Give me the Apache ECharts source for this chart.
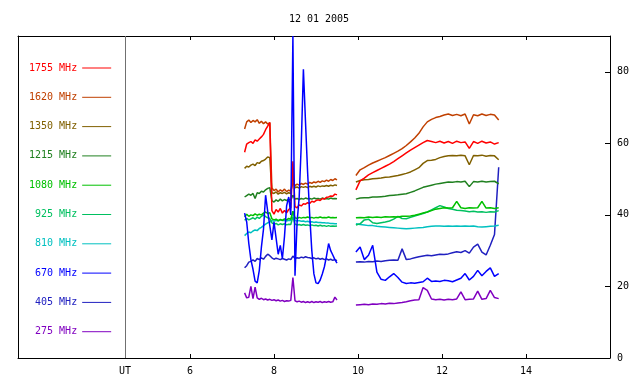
<!DOCTYPE html>
<html>
<head>
<meta charset="utf-8">
<script src="https://cdn.jsdelivr.net/npm/echarts@6/dist/echarts.min.js"></script>
<style>
  html, body { margin: 0; padding: 0; background: #fff; }
  #chart { width: 640px; height: 384px; }
</style>
</head>
<body>
<div id="chart"></div>
<script>
// ---------- data ----------
const titleText = '12 01 2005';
const xTicks = [6, 8, 10, 12, 14];
const yTicks = [0, 20, 40, 60, 80];
const utTime = 4.45;
const gapTime = 9.7;

const times1 = [7.30,7.35,7.40,7.45,7.50,7.55,7.60,7.65,7.70,7.75,7.80,7.85,7.90,7.95,8.00,
  8.05,8.10,8.15,8.20,8.25,8.30,8.35,8.40,8.45,8.50,8.55,8.60,8.65,8.70,8.75,
  8.80,8.85,8.90,8.95,9.00,9.05,9.10,9.15,9.20,9.25,9.30,9.35,9.40,9.45,9.50];
const times2 = [9.95,10.05,10.15,10.25,10.35,10.45,10.55,10.65,10.75,10.85,10.95,11.05,
  11.15,11.25,11.35,11.45,11.55,11.65,11.75,11.85,11.95,12.05,12.15,12.25,12.35,
  12.45,12.55,12.65,12.75,12.85,12.95,13.05,13.15,13.25,13.35];

const seriesNames = ['1755 MHz','1620 MHz','1350 MHz','1215 MHz','1080 MHz','925 MHz','810 MHz','670 MHz','405 MHz','275 MHz'];

const f1755a = [57.5,59.8,60.2,60.5,60.0, 61.0,60.6,61.2,61.8,62.5, 63.8,64.8,65.8,41.2,40.2,
  41.5,40.8,41.8,40.5,41.2, 40.6,41.5,42.0,55.0,42.3, 42.0,42.8,42.5,43.1,43.0,
  43.4,43.2,43.8,43.6,44.0, 44.2,44.0,44.6,44.4,44.9, 45.0,45.3,45.2,45.8,45.6];
const f1755b = [47.0,49.5,50.3,51.2,51.8, 52.4,53.0,53.6,54.2,54.9, 55.7,56.5,57.3,58.1,58.8,
  59.5,60.2,60.8,60.5,60.2, 60.6,60.1,60.5,60.0,60.6, 60.2,60.4,58.6,60.5,60.0,
  60.6,60.1,60.4,59.8,60.2];

const f1620a = [64.0,66.0,66.5,65.8,66.4, 66.0,66.6,65.6,66.2,65.5, 66.0,65.4,65.8,47.5,46.8,
  47.2,46.4,47.0,46.6,47.2, 46.5,46.9,46.6,49.0,48.2, 48.6,48.3,48.8,48.5,48.9,
  48.6,49.1,48.8,49.2,49.0, 49.4,49.1,49.5,49.3,49.7, 49.4,49.9,49.6,50.1,49.8];
const f1620b = [51.0,52.6,53.2,53.9,54.5, 55.0,55.5,56.0,56.6,57.2, 57.8,58.5,59.4,60.4,61.5,
  62.8,64.6,66.0,66.7,67.2, 67.5,67.9,68.2,67.8,68.1, 67.7,68.2,65.4,68.0,67.7,
  68.2,67.8,68.1,67.9,66.5];

const f1350a = [53.0,53.6,53.4,53.9,54.2, 53.8,54.6,54.4,55.0,55.2, 55.6,56.2,56.0,46.2,46.0,
  46.4,45.8,46.2,46.0,46.3, 45.9,46.2,46.0,51.0,47.6, 47.8,47.5,47.9,47.7,47.9,
  47.6,48.0,47.8,48.0,47.8, 48.1,47.9,48.1,48.0,48.2, 48.0,48.3,48.1,48.4,48.2];
const f1350b = [49.2,49.6,49.8,49.9,50.1, 50.2,50.3,50.5,50.6,50.8, 51.0,51.3,51.6,52.0,52.6,
  53.2,54.4,55.2,55.3,55.5, 56.0,56.3,56.5,56.6,56.5, 56.7,56.5,54.0,56.6,56.5,
  56.7,56.4,56.6,56.5,55.4];

const f1215a = [45.0,45.4,45.8,45.5,46.0, 44.6,46.2,46.0,46.6,46.4, 47.0,47.4,47.6,44.0,43.6,
  44.2,43.8,44.4,43.9,44.3, 44.0,44.4,44.1,45.5,44.4, 44.6,44.3,44.6,44.4,44.7,
  44.5,44.6,44.4,44.7,44.5, 44.6,44.4,44.7,44.5,44.6, 44.4,44.7,44.5,44.6,44.5];
const f1215b = [44.4,44.7,44.8,44.8,45.0, 45.0,45.1,45.2,45.4,45.5, 45.6,45.8,45.9,46.3,46.7,
  47.2,47.7,48.0,48.3,48.6, 48.8,49.0,49.2,49.1,49.3, 49.2,49.4,47.9,49.3,49.2,
  49.4,49.2,49.3,49.4,48.7];

const f1080a = [39.5,40.2,39.6,40.0,39.8, 40.3,39.9,40.2,40.0,40.5, 40.8,40.4,40.6,38.9,38.6,
  38.8,38.4,38.7,38.5,38.9, 38.6,39.0,38.8,41.0,39.2, 39.0,39.3,39.1,39.3,39.2,
  39.4,39.2,39.3,39.1,39.3, 39.2,39.4,39.2,39.3,39.2, 39.4,39.2,39.3,39.2,39.3];
const f1080b = [39.2,39.3,39.2,39.4,39.3, 39.4,39.3,39.5,39.4,39.5, 39.4,39.6,39.6,39.7,39.9,
  40.2,40.5,40.8,41.2,41.6, 41.8,42.0,41.9,42.0,43.8, 42.0,41.8,42.0,41.9,42.0,
  43.8,41.9,42.0,41.8,42.0];

const f925a = [38.5,39.0,38.6,38.9,39.2, 38.8,39.4,39.0,39.6,40.0, 39.5,39.2,39.0,37.8,37.4,
  37.6,37.2,37.5,37.3,37.5, 37.2,37.4,37.3,39.5,37.4, 37.2,37.3,37.1,37.3,37.1,
  37.2,37.0,37.2,37.0,37.1, 36.9,37.1,36.9,37.0,36.8, 37.0,36.8,36.9,36.8,36.9];
const f925b = [37.2,37.5,38.6,38.8,37.8, 37.6,37.8,38.0,38.3,38.8, 39.6,39.0,38.9,39.3,39.7,
  40.0,40.4,40.8,41.4,42.0, 42.6,42.2,41.8,41.6,41.3, 41.2,41.1,40.9,41.0,40.8,
  40.9,40.7,40.9,40.8,41.2];

const f810a = [34.2,34.8,35.2,35.0,35.5, 35.8,35.6,36.2,36.5,37.0, 37.4,37.8,38.0,38.4,38.2,
  38.5,38.3,38.6,38.4,38.5, 38.3,38.5,38.4,41.0,38.4, 38.3,38.4,38.2,38.3,38.1,
  38.2,38.0,38.1,37.9,38.0, 37.9,37.9,37.8,37.8,37.7, 37.7,37.6,37.6,37.5,37.5];
const f810b = [37.5,37.3,37.2,37.0,37.0, 36.8,36.7,36.6,36.5,36.4, 36.3,36.2,36.1,36.2,36.3,
  36.4,36.5,36.7,36.8,36.9, 36.9,36.8,36.9,36.8,36.9, 36.8,36.9,36.8,36.9,36.7,
  36.6,36.7,36.8,36.9,37.1];

const f670a = [40.5,38.0,32.0,27.5,24.8, 21.5,21.0,24.5,31.0,36.0, 45.5,41.0,37.0,33.0,38.0,
  33.5,29.0,31.5,27.8,34.0, 42.5,45.0,40.0,90.0,23.0, 38.0,45.0,60.0,80.7,66.0,
  52.0,40.0,30.0,23.5,21.0, 20.8,21.8,23.5,25.5,28.5, 32.0,30.0,28.8,27.5,26.5];
const f670b = [29.6,31.0,27.5,28.7,31.5, 24.0,22.0,21.7,22.7,23.6, 22.5,21.2,20.8,21.0,20.9,
  21.1,21.3,22.3,21.4,21.5, 21.4,21.7,21.6,21.3,21.8, 22.3,23.6,21.8,22.8,24.5,
  23.0,24.2,25.2,22.8,23.6];

const f405a = [25.2,25.8,26.8,27.0,27.4, 27.0,27.8,27.5,28.0,27.6, 28.4,29.0,28.6,28.0,27.6,
  27.9,27.7,27.5,27.8,27.6, 27.4,27.7,27.5,28.5,27.8, 28.0,27.9,28.2,28.0,28.3,
  28.1,28.0,27.8,28.0,27.7, 27.9,27.6,27.8,27.5,27.7, 27.4,27.6,27.3,27.5,27.2];
const f405b = [26.8,26.9,26.8,27.0,26.9, 27.1,27.0,27.2,27.3,27.4, 27.3,30.5,27.5,27.7,28.0,
  28.3,28.5,28.7,28.6,28.8, 29.0,28.9,29.1,29.4,29.7, 29.5,30.0,29.3,31.0,31.8,
  29.6,28.8,31.5,34.5,53.3];

const f275a = [18.2,16.8,17.0,20.0,16.6, 19.8,16.8,16.4,16.7,16.3, 16.5,16.2,16.4,16.1,16.3,
  16.0,16.2,15.9,16.1,15.8, 16.0,15.9,16.1,22.5,16.0, 15.7,15.9,15.6,15.8,15.5,
  15.7,15.5,15.8,15.5,15.7, 15.6,15.8,15.5,15.7,15.6, 15.8,15.6,15.7,17.0,16.2];
const f275b = [14.8,14.9,15.0,14.9,15.1, 15.0,15.2,15.1,15.3,15.2, 15.4,15.5,15.7,16.0,16.2,
  16.3,19.7,18.9,16.5,16.3, 16.4,16.2,16.4,16.3,16.5, 18.5,16.3,16.4,16.5,18.7,
  16.4,16.6,18.9,16.9,16.6];

// ---------- styling ----------
const MONO = '"DejaVu Sans Mono", "Liberation Mono", monospace';
const colors = {
  '1755 MHz': '#ff0000', '1620 MHz': '#c04000', '1350 MHz': '#806000',
  '1215 MHz': '#208020', '1080 MHz': '#00c000', '925 MHz': '#00c060',
  '810 MHz': '#00c0c0', '670 MHz': '#0000ff', '405 MHz': '#2020c0', '275 MHz': '#8000c0'
};
const seriesValues = {
  '1755 MHz': [f1755a, f1755b], '1620 MHz': [f1620a, f1620b], '1350 MHz': [f1350a, f1350b],
  '1215 MHz': [f1215a, f1215b], '1080 MHz': [f1080a, f1080b], '925 MHz': [f925a, f925b],
  '810 MHz': [f810a, f810b], '670 MHz': [f670a, f670b], '405 MHz': [f405a, f405b],
  '275 MHz': [f275a, f275b]
};
function build(a, b) {
  return times1.map((t, i) => [t, a[i]])
    .concat([[gapTime, null]])
    .concat(times2.map((t, i) => [t, b[i]]));
}

const drawOrder = ['275 MHz','405 MHz','810 MHz','925 MHz','1080 MHz','1215 MHz','1350 MHz','1620 MHz','1755 MHz','670 MHz'];
const series = drawOrder.map(name => ({
  name: name,
  type: 'line',
  xAxisIndex: 0,
  yAxisIndex: 0,
  symbol: 'none',
  showSymbol: false,
  connectNulls: false,
  data: build(seriesValues[name][0], seriesValues[name][1]),
  lineStyle: { color: colors[name], width: 1.5 },
  itemStyle: { color: colors[name] },
  emphasis: { disabled: true }
}));
// UT reference line
series.push({
  name: 'ut', type: 'line', data: [], xAxisIndex: 0, yAxisIndex: 0,
  markLine: {
    silent: true, symbol: ['none', 'none'], label: { show: false },
    lineStyle: { color: '#707070', type: 'solid', width: 1 },
    data: [{ xAxis: utTime }]
  }
});

const xMin = 16 - 592 / 42;
const xMax = 16;

const chart = echarts.init(document.getElementById('chart'), null, { renderer: 'canvas' });
chart.setOption({
  animation: false,
  backgroundColor: '#ffffff',
  title: {
    text: titleText, left: 314, top: 9, textAlign: 'center',
    textStyle: { fontFamily: MONO, fontSize: 10, fontWeight: 'normal', color: '#000' }
  },
  legend: {
    orient: 'vertical', left: 24, top: 58, align: 'right',
    itemWidth: 29, itemHeight: 14, itemGap: 19.3,
    icon: 'path://M0,0H29V1H0Z',
    selectedMode: false,
    textStyle: { fontFamily: MONO, fontSize: 10 },
    data: seriesNames.map(n => ({ name: n, textStyle: { color: colors[n] } }))
  },
  grid: { left: 18, right: 30, top: 36, bottom: 26, outerBoundsMode: 'none' },
  xAxis: [
    {
      type: 'value', min: xMin, max: xMax, position: 'bottom',
      axisLine: { show: true, onZero: false, lineStyle: { color: '#000', width: 1 } },
      axisTick: { show: true, inside: true, length: 4, customValues: xTicks, lineStyle: { color: '#000' } },
      axisLabel: {
        show: true, customValues: [utTime].concat(xTicks), margin: 8,
        formatter: v => (v === utTime ? 'UT' : String(v)),
        fontFamily: MONO, fontSize: 10, color: '#000'
      },
      splitLine: { show: false }
    },
    {
      type: 'value', min: xMin, max: xMax, position: 'top',
      axisLine: { show: true, onZero: false, lineStyle: { color: '#000', width: 1 } },
      axisTick: { show: true, inside: true, length: 4, customValues: xTicks, lineStyle: { color: '#000' } },
      axisLabel: { show: false },
      splitLine: { show: false }
    }
  ],
  yAxis: [
    {
      type: 'value', min: 0, max: 90, position: 'right',
      axisLine: { show: true, onZero: false, lineStyle: { color: '#000', width: 1 } },
      axisTick: { show: true, inside: true, length: 5, customValues: yTicks, lineStyle: { color: '#000' } },
      axisLabel: { show: true, customValues: yTicks, margin: 7, fontFamily: MONO, fontSize: 10, color: '#000' },
      splitLine: { show: false }
    },
    {
      type: 'value', min: 0, max: 90, position: 'left',
      axisLine: { show: true, onZero: false, lineStyle: { color: '#000', width: 1 } },
      axisTick: { show: false }, axisLabel: { show: false }, splitLine: { show: false }
    }
  ],
  series: series
});
</script>
</body>
</html>
